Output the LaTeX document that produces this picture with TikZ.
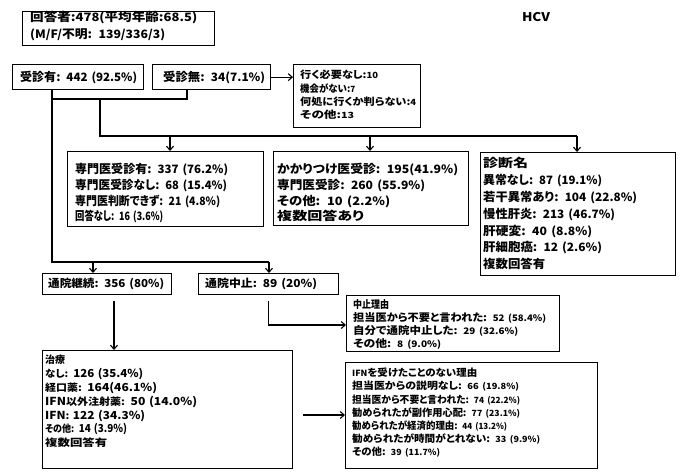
\documentclass[tikz,border=0pt]{standalone}
\usepackage{graphicx}
\usepackage{fontspec}
\setmainfont{Noto Sans CJK JP}[RawFeature={+palt}]
\newfontfamily\numfont{Noto Sans CJK JP}
\usetikzlibrary{arrows.meta}
\newcommand\nms{11}
\newcommand\nm[1]{{\numfont\bfseries\fontsize{\nms}{\baselineskip}\selectfont #1}}
\newcommand\setfnt[3]{\fontsize{#1}{#2}\selectfont\bfseries\def\nms{#3}}
\newsavebox\Lbox
\newlength\Ldim
\newcommand\Lw[2]{\sbox\Lbox{#2}\setlength\Ldim{\wd\Lbox}\pgfmathsetmacro\Lfac{#1/\Ldim}\scalebox{\Lfac}[1]{\usebox\Lbox}}
\begin{document}
\begin{tikzpicture}[x=1pt,y=-1pt,
  bx/.style={draw, line width=1.3pt, anchor=north west, inner sep=0pt},
  tx/.style={anchor=base west, inner sep=0pt, align=left, text width=260pt},
  ln/.style={line width=1.1pt},
  arr/.style={ln, -{Straight Barb[length=4pt,width=7pt]}}]
\useasboundingbox[fill=white] (0,0) rectangle (684,474);

% boxes
\node[bx, minimum width=192pt, minimum height=34pt] (resp) at (22,11) {};
\node[tx, font=\setfnt{12}{17}{11.5}] (respt) at (30,21.6)
  {\Lw{167}{回答者:\nm{478(}平均年齢:\nm{68.5)}}\\\Lw{135}{\nm{(M/F/}不明: \nm{139/336/3)}}};
\node[font=\setfnt{12}{15}{12}, inner sep=0pt] (hcv) at (536,17) {\Lw{28}{HCV}};

\node[bx, minimum width=131pt, minimum height=25pt] (yes) at (12,64) {};
\node[tx, font=\setfnt{12}{15}{11.5}] (yest) at (20,81.3) {\Lw{117}{受診有: \nm{442 (92.5\%)}}};
\node[bx, minimum width=118pt, minimum height=25pt] (no) at (152,64) {};
\node[tx, font=\setfnt{12}{15}{11.5}] (not) at (163,81.3) {\Lw{102}{受診無: \nm{34(7.1\%)}}};

\node[bx, minimum width=127pt, minimum height=63pt] (noreason) at (293,64) {};
\node[tx, font=\setfnt{10}{13.3}{8.5}] (noreasont) at (300,78.8)
  {\Lw{78}{行く必要なし:\nm{10}}\\\Lw{55}{機会がない:\nm{7}}\\\Lw{116}{何処に行くか判らない:\nm{4}}\\\Lw{54}{その他:\nm{13}}};

\node[bx, minimum width=196pt, minimum height=75pt] (spec) at (67,151) {};
\node[tx, font=\setfnt{12}{15.7}{11.5}] (spect) at (75,173.6)
  {\Lw{153}{専門医受診有: \nm{337 (76.2\%)}}\\\Lw{152}{専門医受診なし: \nm{68 (15.4\%)}}\\\Lw{145}{専門医判断できず: \nm{21 (4.8\%)}}\\\Lw{88}{回答なし: \nm{16 (3.6\%)}}};

\node[bx, minimum width=195pt, minimum height=74pt] (kaka) at (273,151) {};
\node[tx, font=\setfnt{12}{15.7}{11.5}] (kakat) at (277,173.6)
  {\Lw{181}{かかりつけ医受診: \nm{195(41.9\%)}}\\\Lw{148}{専門医受診: \nm{260 (55.9\%)}}\\\Lw{113}{その他: \nm{10 (2.2\%)}}\\\Lw{87}{複数回答あり}};

\node[bx, minimum width=195pt, minimum height=123pt] (diag) at (480,152) {};
\node[tx, font=\setfnt{12}{16.8}{11.5}] (diagt) at (483,167.9)
  {\Lw{45}{診断名}\\\Lw{119}{異常なし: \nm{87 (19.1\%)}}\\\Lw{154}{若干異常あり: \nm{104 (22.8\%)}}\\\Lw{132}{慢性肝炎: \nm{213 (46.7\%)}}\\\Lw{109}{肝硬変: \nm{40 (8.8\%)}}\\\Lw{119}{肝細胞癌: \nm{12 (2.6\%)}}\\\Lw{62}{複数回答有}};

\node[bx, minimum width=129pt, minimum height=21pt] (cont) at (42,273) {};
\node[tx, font=\setfnt{11}{13}{11}] (contt) at (48,287.7) {\Lw{116}{通院継続: \nm{356 (80\%)}}};
\node[bx, minimum width=140pt, minimum height=21pt] (stop) at (198,273) {};
\node[tx, font=\setfnt{11}{13}{11}] (stopt) at (205,287.7) {\Lw{112}{通院中止: \nm{89 (20\%)}}};

\node[bx, minimum width=213pt, minimum height=56pt] (stopreason) at (346,295) {};
\node[tx, font=\setfnt{10.5}{13.3}{9}] (stopreasont) at (353,308)
  {\Lw{36}{中止理由}\\\Lw{193}{担当医から不要と言われた: \nm{52 (58.4\%)}}\\\Lw{165}{自分で通院中止した: \nm{29 (32.6\%)}}\\\Lw{88}{その他: \nm{8 (9.0\%)}}};

\node[bx, minimum width=250pt, minimum height=118pt] (treat) at (42,350) {};
\node[tx, font=\setfnt{10}{13.8}{11}] (treatt) at (45,363.8)
  {\Lw{20}{治療}\\\Lw{98}{なし: \nm{126 (35.4\%)}}\\\Lw{112}{経口薬: \nm{164(46.1\%)}}\\\Lw{152}{\nm{IFN}以外注射薬: \nm{50 (14.0\%)}}\\\Lw{100}{\nm{IFN}: \nm{122 (34.3\%)}}\\\Lw{82}{その他: \nm{14 (3.9\%)}}\\\Lw{62}{複数回答有}};

\node[bx, minimum width=252pt, minimum height=106pt] (ifn) at (345,362) {};
\node[tx, font=\setfnt{10}{13.1}{8.5}] (ifnt) at (352,376.8)
  {\Lw{125}{\nm{IFN}を受けたことのない理由}\\\Lw{167}{担当医からの説明なし: \nm{66 (19.8\%)}}\\\Lw{168}{担当医から不要と言われた: \nm{74 (22.2\%)}}\\\Lw{168}{勧められたが副作用心配: \nm{77 (23.1\%)}}\\\Lw{155}{勧められたが経済的理由: \nm{44 (13.2\%)}}\\\Lw{188}{勧められたが時間がとれない: \nm{33 (9.9\%)}}\\\Lw{88}{その他: \nm{39 (11.7\%)}}};

% junction points
\coordinate (ja) at (52,99);
\coordinate (kb) at (187,99);
\coordinate (jb) at (100,99);
\coordinate (jc) at (100,136);
\coordinate (jd) at (577,136);
\coordinate (kc) at (170,136);
\coordinate (kd) at (370,136);
\coordinate (je) at (52,262);
\coordinate (jf) at (269,262);
\coordinate (ka) at (93,262);
\coordinate (kg) at (114,300);
\coordinate (kh) at (0,325);
\coordinate (kf) at (303,415);

% connectors
\draw[ln] (yes.south -| ja) -- (je) -- (jf);
\draw[ln] (no.south -| kb) -- (kb) -- (ja);
\draw[ln] (jb) -- (jc) -- (jd);
\draw[arr] (kc) -- (kc |- spec.north);
\draw[arr] (kd) -- (kd |- kaka.north);
\draw[arr] (jd) -- (jd |- diag.north);
\draw[arr] (no.east) -- (no.east -| noreason.west);
\draw[arr] (ka) -- (ka |- cont.north);
\draw[arr] (jf) -- (jf |- stop.north);
\draw[arr, shorten <=6pt] (cont.south -| kg) -- (treat.north -| kg);
\draw[arr, shorten <=6pt] (stop.south) |- (kh -| stopreason.west);
\draw[arr, shorten <=10pt] (treat.east |- kf) -- (kf -| ifn.west);
\end{tikzpicture}
\end{document}
